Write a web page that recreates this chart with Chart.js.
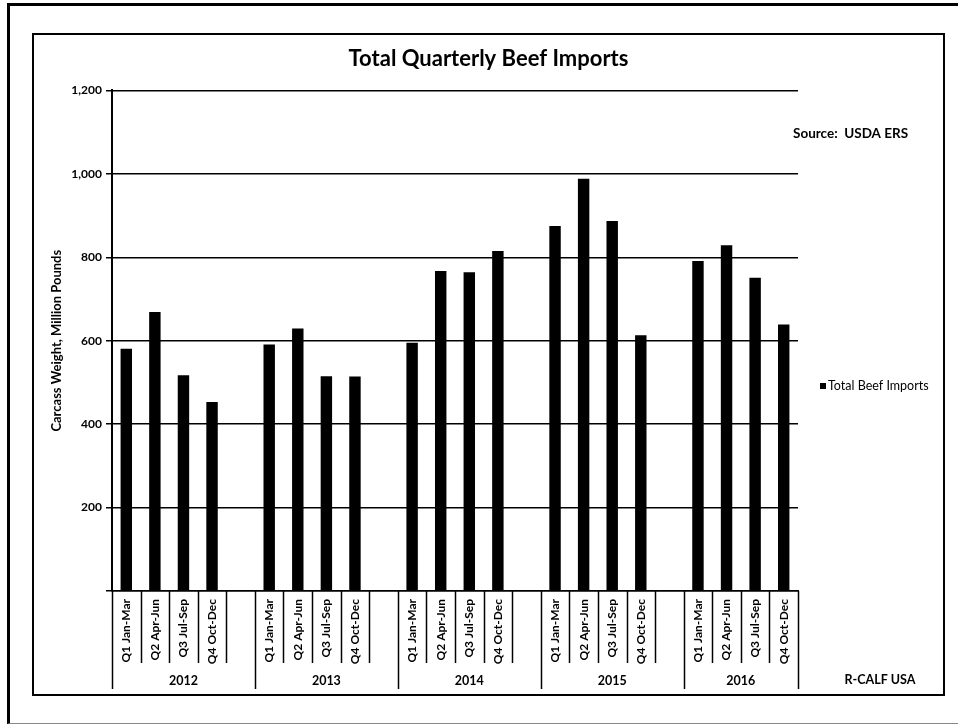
<!DOCTYPE html>
<html>
<head>
<meta charset="utf-8">
<script src="https://cdn.jsdelivr.net/npm/chart.js@4.4.1/dist/chart.umd.min.js"></script>
<style>
    html, body { margin: 0; padding: 0; background: #fff; overflow: hidden; }
    body { width: 958px; height: 724px; position: relative; }
    #frame {
        position: absolute; left: 7px; top: 3px; width: 960px; height: 717px;
        border-left: 3px solid #000; border-top: 3px solid #000; border-bottom: 1px solid #888;
    }
    #box {
        position: absolute; left: 32px; top: 33px; width: 909px; height: 659px;
        border: 2px solid #000;
    }
    #beefChart { display: block; }
</style>
</head>
<body>
<div id="frame"></div>
<div id="box"><canvas id="beefChart" width="909" height="659"></canvas></div>
<script>
const FONT = "Lato, 'Open Sans', sans-serif";

const years = ["2012", "2013", "2014", "2015", "2016"];
const quarters = ["Q1 Jan-Mar", "Q2 Apr-Jun", "Q3 Jul-Sep", "Q4 Oct-Dec"];

const imports2012 = [581, 669, 517, 453];
const imports2013 = [591, 629, 515, 514];
const imports2014 = [595, 767, 764, 815];
const imports2015 = [875, 988, 887, 613];
const imports2016 = [791, 829, 751, 639];

const yTicks = [0, 200, 400, 600, 800, 1000, 1200];

// one empty slot after each year except the last
const yearData = [imports2012, imports2013, imports2014, imports2015, imports2016];
const labels = [];
const values = [];
const yearOfSlot = [];
yearData.forEach((vals, yi) => {
    quarters.forEach((q, qi) => {
        labels.push(q);
        values.push(vals[qi]);
        yearOfSlot.push(yi);
    });
    if (yi < yearData.length - 1) {
        labels.push("");
        values.push(null);
        yearOfSlot.push(yi);
    }
});

const categoryRows = {
    id: "categoryRows",
    afterDraw(chart) {
        const ctx = chart.ctx;
        const x = chart.scales.x;
        const top = x.top;
        const n = labels.length;
        const half = (x.getPixelForValue(1) - x.getPixelForValue(0)) / 2;
        const edge = i => i < n ? x.getPixelForValue(i) - half : x.getPixelForValue(n - 1) + half;

        ctx.save();
        ctx.strokeStyle = "#000";
        ctx.lineWidth = 1.5;
        for (let i = 0; i <= n; i++) {
            const full = i === 0 || i === n || yearOfSlot[i] !== yearOfSlot[i - 1];
            const px = Math.round(edge(i)) + 0.5;
            ctx.beginPath();
            ctx.moveTo(px, top);
            ctx.lineTo(px, full ? top + 98 : top + 72);
            ctx.stroke();
        }

        ctx.fillStyle = "#000";
        ctx.font = "bold 12.5px " + FONT;
        ctx.textAlign = "center";
        ctx.textBaseline = "middle";
        years.forEach((yr, yi) => {
            const first = yearOfSlot.indexOf(yi);
            const last = yearOfSlot.lastIndexOf(yi);
            ctx.fillText(yr, (edge(first) + edge(last + 1)) / 2, top + 90);
        });

        // legend
        const ds = chart.data.datasets[0];
        ctx.fillRect(786, 348, 6, 6);
        ctx.textAlign = "left";
        ctx.font = "12.5px " + FONT;
        ctx.fillText(ds.label, 794, 351);

        ctx.font = "bold 13.5px " + FONT;
        ctx.fillText("Source:  USDA ERS", 759, 99);
        ctx.textAlign = "center";
        ctx.font = "bold 12.5px " + FONT;
        ctx.fillText("R-CALF USA", 846, 645);
        ctx.restore();
    }
};

new Chart(document.getElementById("beefChart").getContext("2d"), {
    type: "bar",
    data: {
        labels: labels,
        datasets: [{
            label: "Total Beef Imports",
            data: values,
            backgroundColor: "#000",
            borderWidth: 0,
            barPercentage: 0.4,
            categoryPercentage: 1.0
        }]
    },
    options: {
        responsive: false,
        animation: false,
        layout: { padding: 0 },
        plugins: {
            legend: { display: false },
            tooltip: { enabled: false },
            title: {
                display: true,
                text: "Total Quarterly Beef Imports",
                color: "#000",
                font: { family: FONT, size: 22, weight: "bold" },
                padding: { top: 11, bottom: 18 }
            }
        },
        scales: {
            x: {
                grid: { display: true, drawOnChartArea: false, drawTicks: false },
                border: { color: "#000", width: 1.5 },
                ticks: {
                    color: "#000",
                    font: { family: FONT, size: 12, weight: "bold" },
                    minRotation: 90,
                    maxRotation: 90,
                    autoSkip: false,
                    padding: 8
                },
                afterFit(scale) { scale.height = 103; }
            },
            y: {
                min: 0,
                max: 1200,
                afterBuildTicks(scale) { scale.ticks = yTicks.map(v => ({ value: v })); },
                grid: { color: "#000", lineWidth: 1.5, tickLength: 6 },
                border: { color: "#000", width: 2 },
                ticks: {
                    color: "#000",
                    padding: 4,
                    font: { family: FONT, size: 12, weight: "bold" },
                    callback: v => v === 0 ? "" : v.toLocaleString("en-US")
                },
                title: {
                    display: true,
                    text: "Carcass Weight, Million Pounds",
                    color: "#000",
                    font: { family: FONT, size: 13, weight: "bold" },
                    padding: { top: 15, bottom: 0 }
                },
                afterFit(scale) { scale.width = 78; }
            },
            // empty right-hand box that keeps room for the legend and notes
            side: {
                position: "right",
                grid: { display: false },
                border: { display: false },
                ticks: { display: false },
                afterFit(scale) { scale.width = 145; }
            }
        }
    },
    plugins: [categoryRows]
});
</script>
</body>
</html>
